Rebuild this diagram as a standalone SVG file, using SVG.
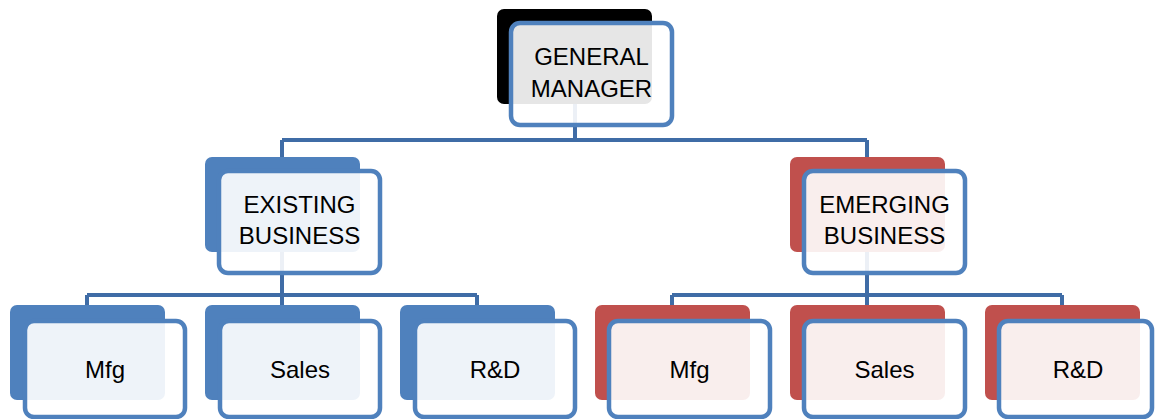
<svg xmlns="http://www.w3.org/2000/svg" width="1155" height="419" viewBox="0 0 1155 419">
  <style>
    .back-k { fill: #000000; }
    .back-b { fill: #4F81BD; }
    .back-r { fill: #C0504D; }
    .front { fill: #FFFFFF; fill-opacity: 0.9; stroke: #4F81BD; stroke-width: 4.5; }
    .conn { fill: none; stroke: #3F6CA6; stroke-width: 4; }
    text { font-family: "Liberation Sans", Arial, sans-serif; font-size: 24px; fill: #000000; text-anchor: middle; }
  </style>
  <rect width="1155" height="419" fill="#FFFFFF"/>

  <g id="connectors">
    <path class="conn" d="M575,104 V140 M282,140 H867 M282,140 V157 M867,140 V157"/>
    <path class="conn" d="M282,252 V295 M87,295 H477 M87,295 V305 M282,295 V305 M477,295 V305"/>
    <path class="conn" d="M867,252 V295 M672,295 H1062 M672,295 V305 M867,295 V305 M1062,295 V305"/>
  </g>

  <g id="general-manager">
    <rect class="back-k" x="497" y="9" width="155" height="95" rx="7"/>
    <rect class="front" x="511" y="23" width="161" height="102" rx="9"/>
    <text x="591.5" y="65">GENERAL</text>
    <text x="591.5" y="97">MANAGER</text>
  </g>

  <g id="existing-business">
    <rect class="back-b" x="205" y="157" width="155" height="95" rx="7"/>
    <rect class="front" x="219" y="171" width="161" height="102" rx="9"/>
    <text x="299.5" y="213">EXISTING</text>
    <text x="299.5" y="244">BUSINESS</text>
  </g>

  <g id="emerging-business">
    <rect class="back-r" x="790" y="157" width="155" height="95" rx="7"/>
    <rect class="front" x="804" y="171" width="161" height="102" rx="9"/>
    <text x="884.5" y="213">EMERGING</text>
    <text x="884.5" y="244">BUSINESS</text>
  </g>

  <g id="existing-mfg">
    <rect class="back-b" x="10" y="305" width="155" height="95" rx="7"/>
    <rect class="front" x="25" y="321" width="160" height="96" rx="9"/>
    <text x="105" y="378">Mfg</text>
  </g>

  <g id="existing-sales">
    <rect class="back-b" x="205" y="305" width="155" height="95" rx="7"/>
    <rect class="front" x="220" y="321" width="160" height="96" rx="9"/>
    <text x="300" y="378">Sales</text>
  </g>

  <g id="existing-rnd">
    <rect class="back-b" x="400" y="305" width="155" height="95" rx="7"/>
    <rect class="front" x="415" y="321" width="160" height="96" rx="9"/>
    <text x="495" y="378">R&amp;D</text>
  </g>

  <g id="emerging-mfg">
    <rect class="back-r" x="595" y="305" width="155" height="95" rx="7"/>
    <rect class="front" x="609" y="321" width="161" height="96" rx="9"/>
    <text x="689.5" y="378">Mfg</text>
  </g>

  <g id="emerging-sales">
    <rect class="back-r" x="790" y="305" width="155" height="95" rx="7"/>
    <rect class="front" x="804" y="321" width="161" height="96" rx="9"/>
    <text x="884.5" y="378">Sales</text>
  </g>

  <g id="emerging-rnd">
    <rect class="back-r" x="985" y="305" width="155" height="95" rx="7"/>
    <rect class="front" x="999" y="321" width="153" height="96" rx="9"/>
    <text x="1078" y="378">R&amp;D</text>
  </g>
</svg>
